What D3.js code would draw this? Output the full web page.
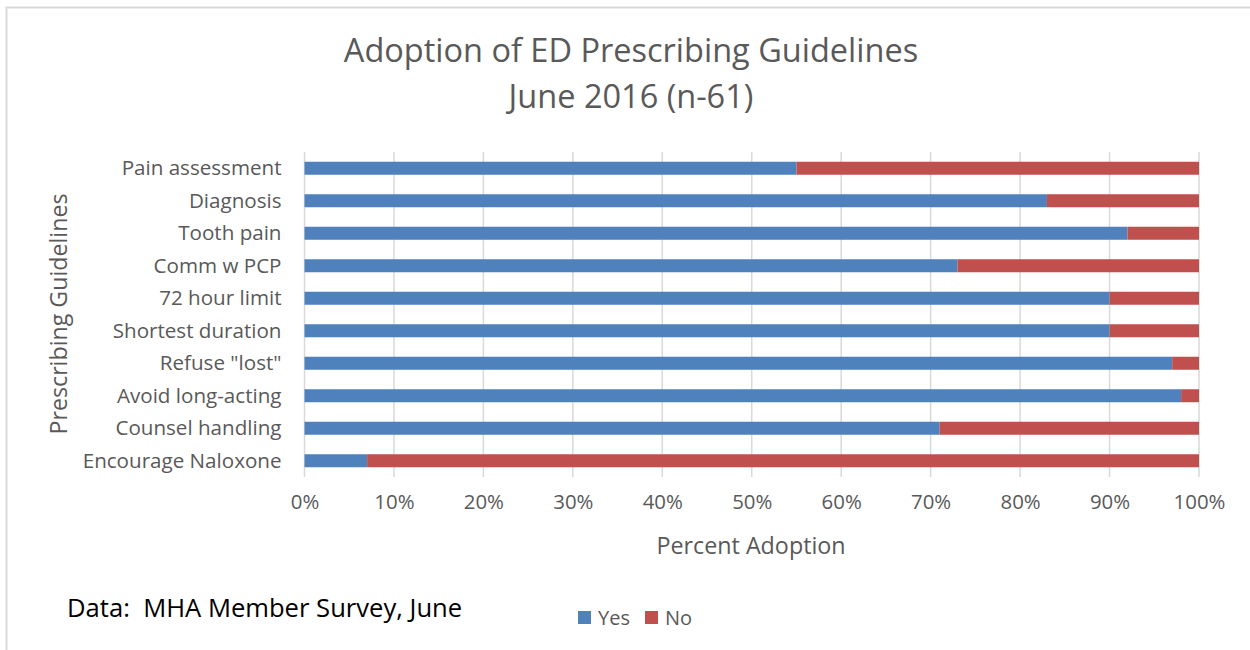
<!DOCTYPE html>
<html>
<head>
<meta charset="utf-8">
<script src="https://cdn.jsdelivr.net/npm/d3@7"></script>
<style>
  body { margin: 0; background: #fff; }
  svg { display: block; font-family: "Open Sans", sans-serif; }
</style>
</head>
<body>
<svg id="chart" width="1250" height="650"></svg>
<script>
// guideline categories, top to bottom
const categories = ["Pain assessment", "Diagnosis", "Tooth pain", "Comm w PCP", "72 hour limit",
  "Shortest duration", "Refuse \"lost\"", "Avoid long-acting", "Counsel handling", "Encourage Naloxone"];
const yesValues = [55, 83, 92, 73, 90, 90, 97, 98, 71, 7];
const noValues = [45, 17, 8, 27, 10, 10, 3, 2, 29, 93];
const xTicks = [0, 10, 20, 30, 40, 50, 60, 70, 80, 90, 100];
const seriesNames = ["Yes", "No"];
const colors = { Yes: "#4f81bd", No: "#c0504d" };

const svg = d3.select("#chart");
const margin = { top: 152, left: 304.5, right: 51, bottom: 173 };
const width = 1250 - margin.left - margin.right;
const height = 650 - margin.top - margin.bottom;

// outer chart frame (only left and top edges fall inside the picture)
svg.append("rect")
  .attr("x", 6.5).attr("y", 7.5)
  .attr("width", 1300).attr("height", 700)
  .attr("fill", "none").attr("stroke", "#d9d9d9").attr("stroke-width", 2);

const rows = categories.map(function(c, i) {
  return { name: c, Yes: yesValues[i], No: noValues[i] };
});
const stacked = d3.stack().keys(seriesNames)(rows);

const x = d3.scaleLinear().domain([0, 100]).range([0, width]);
const y = d3.scaleBand().domain(categories).range([0, height]).paddingInner(0.6).paddingOuter(0.3);

const g = svg.append("g").attr("transform", `translate(${margin.left},${margin.top})`);

// vertical gridlines
g.append("g")
  .selectAll("line")
  .data(xTicks)
  .enter()
  .append("line")
  .attr("x1", d => x(d)).attr("x2", d => x(d))
  .attr("y1", 0).attr("y2", height)
  .attr("stroke", "#d9d9d9").attr("stroke-width", 1.5);

// stacked bars
g.append("g")
  .selectAll("g")
  .data(stacked)
  .enter()
  .append("g")
  .attr("fill", d => colors[d.key])
  .selectAll("rect")
  .data(d => d)
  .enter()
  .append("rect")
  .attr("x", d => x(d[0]))
  .attr("y", d => y(d.data.name))
  .attr("width", d => x(d[1]) - x(d[0]))
  .attr("height", y.bandwidth());

// category labels
const yAxis = g.append("g")
  .call(d3.axisLeft(y).tickSize(0).tickPadding(23));
yAxis.select(".domain").remove();
yAxis.selectAll("text")
  .attr("fill", "#595959")
  .attr("dy", "0.35em")
  .style("font-size", "20.6px")
  .style("font-family", "'Open Sans', sans-serif");

// percent labels
const xAxis = g.append("g")
  .attr("transform", `translate(0,${height})`)
  .call(d3.axisBottom(x).tickValues(xTicks).tickFormat(d => d + "%").tickSize(0).tickPadding(18));
xAxis.select(".domain").remove();
xAxis.selectAll("text")
  .attr("fill", "#595959")
  .style("font-size", "20.4px")
  .style("font-family", "'Open Sans', sans-serif");

// titles
svg.append("text")
  .attr("x", 631).attr("y", 62)
  .attr("text-anchor", "middle")
  .attr("fill", "#595959")
  .style("font-size", "32.5px")
  .text("Adoption of ED Prescribing Guidelines");
svg.append("text")
  .attr("x", 631).attr("y", 108)
  .attr("text-anchor", "middle")
  .attr("fill", "#595959")
  .style("font-size", "32.5px")
  .text("June 2016 (n-61)");

svg.append("text")
  .attr("x", 751).attr("y", 554)
  .attr("text-anchor", "middle")
  .attr("fill", "#595959")
  .style("font-size", "23.3px")
  .text("Percent Adoption");

svg.append("text")
  .attr("transform", "translate(67,314) rotate(-90)")
  .attr("text-anchor", "middle")
  .attr("fill", "#595959")
  .style("font-size", "23.2px")
  .text("Prescribing Guidelines");

// data source note
svg.append("text")
  .attr("x", 67).attr("y", 617)
  .attr("fill", "#000")
  .style("font-size", "25.6px")
  .style("white-space", "pre")
  .text("Data:  MHA Member Survey, June");

// legend
const legend = svg.append("g").attr("transform", "translate(578,611)");
const item = legend.selectAll("g")
  .data(seriesNames)
  .enter()
  .append("g")
  .attr("transform", (d, i) => `translate(${i * 67},0)`);
item.append("rect")
  .attr("width", 13).attr("height", 13)
  .attr("fill", d => colors[d]);
item.append("text")
  .attr("x", 20).attr("y", 13.5)
  .attr("fill", "#595959")
  .style("font-size", "20px")
  .text(d => d);
</script>
</body>
</html>
